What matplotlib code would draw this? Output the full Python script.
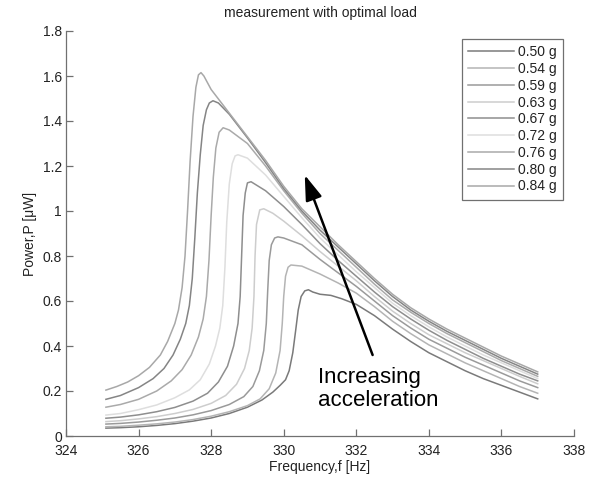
import matplotlib
matplotlib.use("Agg")
import matplotlib.pyplot as plt

plt.rcParams['font.family'] = ['Liberation Sans', 'DejaVu Sans']

title = "measurement with optimal load"
xlabel = "Frequency,f [Hz]"
ylabel = "Power,P [\u03bcW]"
labels = ["0.50 g", "0.54 g", "0.59 g", "0.63 g", "0.67 g", "0.72 g", "0.76 g", "0.80 g", "0.84 g"]
colors = ["#7a7a7a", "#b4b4b4", "#9a9a9a", "#cdcdcd", "#8e8e8e", "#dedede", "#aaaaaa", "#858585", "#a8a8a8"]

f_050 = [325.1, 325.5, 326.0, 326.5, 327.0, 327.5, 328.0, 328.5, 329.0, 329.4, 329.7, 329.9, 330.05, 330.15, 330.25, 330.33, 330.4, 330.48, 330.58, 330.68, 330.8, 331.0, 331.3, 331.6, 332.0, 332.5, 333.0, 333.5, 334.0, 334.5, 335.0, 335.5, 336.0, 336.5, 337.0]
p_050 = [0.035, 0.037, 0.041, 0.047, 0.055, 0.066, 0.08, 0.10, 0.128, 0.16, 0.195, 0.225, 0.25, 0.29, 0.37, 0.47, 0.56, 0.62, 0.645, 0.65, 0.64, 0.63, 0.625, 0.61, 0.585, 0.535, 0.475, 0.42, 0.37, 0.33, 0.29, 0.255, 0.225, 0.195, 0.165]

f_054 = [325.1, 325.5, 326.0, 326.5, 327.0, 327.5, 328.0, 328.5, 329.0, 329.35, 329.6, 329.78, 329.9, 329.96, 330.0, 330.05, 330.12, 330.2, 330.5, 331.0, 331.5, 332.0, 332.5, 333.0, 333.5, 334.0, 334.5, 335.0, 335.5, 336.0, 336.5, 337.0]
p_054 = [0.041, 0.043, 0.048, 0.054, 0.062, 0.073, 0.088, 0.108, 0.135, 0.165, 0.21, 0.28, 0.38, 0.50, 0.62, 0.71, 0.75, 0.76, 0.755, 0.72, 0.68, 0.635, 0.575, 0.51, 0.455, 0.405, 0.365, 0.325, 0.29, 0.255, 0.22, 0.19]

f_059 = [325.1, 325.5, 326.0, 326.5, 327.0, 327.5, 328.0, 328.5, 328.9, 329.15, 329.33, 329.45, 329.52, 329.56, 329.6, 329.66, 329.75, 329.84, 330.0, 330.5, 331.0, 331.5, 332.0, 332.5, 333.0, 333.5, 334.0, 334.5, 335.0, 335.5, 336.0, 336.5, 337.0]
p_059 = [0.053, 0.056, 0.062, 0.07, 0.08, 0.094, 0.113, 0.14, 0.175, 0.22, 0.29, 0.38, 0.50, 0.65, 0.78, 0.85, 0.88, 0.885, 0.88, 0.85, 0.785, 0.725, 0.665, 0.60, 0.535, 0.48, 0.43, 0.39, 0.35, 0.315, 0.28, 0.245, 0.215]

f_063 = [325.1, 325.5, 326.0, 326.5, 327.0, 327.5, 328.0, 328.4, 328.7, 328.92, 329.05, 329.13, 329.18, 329.21, 329.25, 329.34, 329.45, 329.7, 330.0, 330.5, 331.0, 331.5, 332.0, 332.5, 333.0, 333.5, 334.0, 334.5, 335.0, 335.5, 336.0, 336.5, 337.0]
p_063 = [0.064, 0.068, 0.076, 0.086, 0.10, 0.118, 0.145, 0.18, 0.23, 0.30, 0.38, 0.48, 0.62, 0.80, 0.94, 1.005, 1.01, 0.99, 0.955, 0.89, 0.82, 0.755, 0.69, 0.62, 0.555, 0.50, 0.45, 0.41, 0.37, 0.335, 0.30, 0.265, 0.232]

f_067 = [325.1, 325.5, 326.0, 326.5, 327.0, 327.5, 327.9, 328.2, 328.45, 328.62, 328.74, 328.8, 328.84, 328.88, 328.94, 329.0, 329.1, 329.5, 330.0, 330.5, 331.0, 331.5, 332.0, 332.5, 333.0, 333.5, 334.0, 334.5, 335.0, 335.5, 336.0, 336.5, 337.0]
p_067 = [0.079, 0.084, 0.094, 0.108, 0.127, 0.155, 0.19, 0.24, 0.31, 0.40, 0.50, 0.62, 0.80, 0.98, 1.08, 1.125, 1.13, 1.09, 1.02, 0.94, 0.855, 0.78, 0.71, 0.64, 0.575, 0.52, 0.47, 0.425, 0.385, 0.345, 0.31, 0.275, 0.245]

f_072 = [325.1, 325.5, 326.0, 326.5, 327.0, 327.4, 327.7, 327.95, 328.12, 328.24, 328.32, 328.38, 328.43, 328.5, 328.58, 328.66, 328.74, 329.0, 329.5, 330.0, 330.5, 331.0, 331.5, 332.0, 332.5, 333.0, 333.5, 334.0, 334.5, 335.0, 335.5, 336.0, 336.5, 337.0]
p_072 = [0.093, 0.10, 0.117, 0.138, 0.17, 0.205, 0.25, 0.32, 0.40, 0.48, 0.58, 0.75, 0.95, 1.12, 1.21, 1.245, 1.25, 1.235, 1.16, 1.065, 0.97, 0.88, 0.805, 0.73, 0.66, 0.59, 0.535, 0.485, 0.44, 0.40, 0.36, 0.325, 0.29, 0.255]

f_076 = [325.1, 325.5, 326.0, 326.5, 326.9, 327.2, 327.45, 327.65, 327.78, 327.87, 327.94, 328.0, 328.06, 328.13, 328.22, 328.33, 328.5, 329.0, 329.5, 330.0, 330.5, 331.0, 331.5, 332.0, 332.5, 333.0, 333.5, 334.0, 334.5, 335.0, 335.5, 336.0, 336.5, 337.0]
p_076 = [0.128, 0.14, 0.163, 0.20, 0.245, 0.295, 0.36, 0.44, 0.52, 0.62, 0.78, 0.98, 1.15, 1.28, 1.35, 1.37, 1.36, 1.30, 1.20, 1.09, 0.99, 0.90, 0.825, 0.75, 0.675, 0.605, 0.55, 0.50, 0.455, 0.415, 0.375, 0.335, 0.30, 0.265]

f_080 = [325.1, 325.5, 326.0, 326.4, 326.7, 326.95, 327.15, 327.3, 327.4, 327.48, 327.55, 327.62, 327.7, 327.78, 327.87, 327.95, 328.05, 328.2, 328.5, 329.0, 329.5, 330.0, 330.5, 331.0, 331.5, 332.0, 332.5, 333.0, 333.5, 334.0, 334.5, 335.0, 335.5, 336.0, 336.5, 337.0]
p_080 = [0.163, 0.18, 0.215, 0.255, 0.30, 0.36, 0.43, 0.50, 0.58, 0.70, 0.88, 1.08, 1.25, 1.38, 1.45, 1.48, 1.49, 1.48, 1.43, 1.325, 1.215, 1.10, 1.0, 0.915, 0.84, 0.765, 0.69, 0.62, 0.56, 0.51, 0.465, 0.425, 0.385, 0.345, 0.31, 0.275]

f_084 = [325.1, 325.4, 325.7, 326.0, 326.3, 326.6, 326.8, 327.0, 327.1, 327.2, 327.28, 327.35, 327.42, 327.5, 327.58, 327.65, 327.72, 327.8, 328.0, 328.5, 329.0, 329.5, 330.0, 330.5, 331.0, 331.5, 332.0, 332.5, 333.0, 333.5, 334.0, 334.5, 335.0, 335.5, 336.0, 336.5, 337.0]
p_084 = [0.204, 0.22, 0.24, 0.268, 0.305, 0.36, 0.42, 0.50, 0.56, 0.66, 0.80, 1.0, 1.22, 1.42, 1.55, 1.605, 1.615, 1.60, 1.54, 1.435, 1.33, 1.225, 1.11, 1.01, 0.93, 0.85, 0.775, 0.70, 0.63, 0.57, 0.52, 0.475, 0.435, 0.395, 0.355, 0.32, 0.285]

freqs = [f_050, f_054, f_059, f_063, f_067, f_072, f_076, f_080, f_084]
powers = [p_050, p_054, p_059, p_063, p_067, p_072, p_076, p_080, p_084]

xticks = [324, 326, 328, 330, 332, 334, 336, 338]
yticks = [0, 0.2, 0.4, 0.6, 0.8, 1.0, 1.2, 1.4, 1.6, 1.8]
yticklabels = ["0", "0.2", "0.4", "0.6", "0.8", "1", "1.2", "1.4", "1.6", "1.8"]

W, H = 604, 482
fig = plt.figure(figsize=(W / 100, H / 100), dpi=100)
ax = fig.add_axes([66 / W, 1 - 436 / H, (574 - 66) / W, (436 - 31) / H])

for fx, py, lab, c in zip(freqs, powers, labels, colors):
    ax.plot(fx, py, color=c, lw=1.1, label=lab)

ax.set_xlim(324, 338)
ax.set_ylim(0, 1.8)
ax.set_xticks(xticks)
ax.set_xticklabels([str(t) for t in xticks])
ax.set_yticks(yticks)
ax.set_yticklabels(yticklabels)
for s in ["top", "right"]:
    ax.spines[s].set_visible(False)
for s in ["left", "bottom"]:
    ax.spines[s].set_color("#707070")
    ax.spines[s].set_linewidth(0.9)
ax.tick_params(direction="in", length=5, width=0.9, color="#707070", labelsize=10, labelcolor="#222222")
ax.tick_params(axis="x", pad=6)
ax.tick_params(axis="y", pad=3)

ax.set_title(title, fontsize=10, color="#222222", pad=10)
ax.set_xlabel(xlabel, fontsize=10, color="#222222", labelpad=1)
ax.set_ylabel(ylabel, fontsize=10, color="#222222", labelpad=4)

ax.annotate("", xy=(330.58, 1.16), xytext=(332.45, 0.36),
            arrowprops=dict(arrowstyle="-|>,head_length=0.9,head_width=0.3", lw=1.8, color="black",
                            mutation_scale=17, shrinkA=0, shrinkB=0))
ax.text(330.94, 0.21, "Increasing\nacceleration", fontsize=16, ha="left", va="center", linespacing=1.15, color="black")

leg = ax.legend(loc="upper left", bbox_to_anchor=(462 / W, 1 - 39 / H), bbox_transform=fig.transFigure,
                fontsize=10, frameon=True, fancybox=False, framealpha=1, edgecolor="#707070",
                handlelength=3.3, handletextpad=0.3, borderpad=0.45, labelspacing=0.2, borderaxespad=0)
leg.get_frame().set_linewidth(0.9)
for t in leg.get_texts():
    t.set_color("#222222")

fig.savefig("out.png", dpi=100)
